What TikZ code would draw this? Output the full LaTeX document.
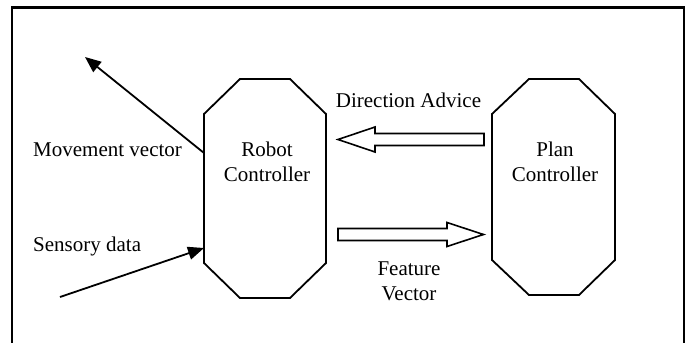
\documentclass[tikz,border=0pt]{standalone}
\usepackage{fontspec}
\setmainfont{Liberation Serif}
\usetikzlibrary{arrows.meta}
\begin{document}
\begin{tikzpicture}[x=1pt,y=-1pt,
  box/.style={inner sep=0pt, outer sep=0pt},
  octaline/.style={draw, line width=1.8pt, line join=miter},
  lbl/.style={font=\fontsize{21}{25}\selectfont, inner sep=0pt, align=center},
  vec/.style={line width=1.8pt, -{Triangle[length=16pt,width=13pt]}},
  hollow/.style={draw, line width=1.6pt, line join=miter}]
\useasboundingbox (0,0) rectangle (689,343);
% frame
\draw[line width=2.2pt] (12,350) -- (12,7.5) -- (684,7.5) -- (684,350);
% controllers (named boxes, octagonal outlines)
\node[box, minimum width=122pt, minimum height=219pt] (robot) at (265,188.5) {};
\node[box, minimum width=123pt, minimum height=216pt] (plan) at (553.5,187) {};
\draw[octaline] (240,79) -- (290,79) -- (326,114) -- (326,263) -- (290,298)
  -- (240,298) -- (204,263) -- (204,114) -- cycle;
\draw[octaline] (529,79) -- (579,79) -- (615,114) -- (615,260) -- (579,295)
  -- (529,295) -- (492,260) -- (492,114) -- cycle;
\node[lbl] (robottext) at (267,162) {Robot\\Controller};
\node[lbl] (plantext) at (555,162) {Plan\\Controller};
% external vectors
\coordinate (mvtip) at (85,57);
\coordinate (sdstart) at (60,297);
\draw[vec] (robot.west |- 0,153) -- (mvtip);
\draw[vec] (sdstart) -- (robot.west |- 0,248);
\node[lbl, anchor=base west] (mvlabel) at (33,156.5) {Movement vector};
\node[lbl, anchor=base west] (sdlabel) at (33,251.5) {Sensory data};
% hollow arrows
\draw[hollow] (338,139.5) -- (375,127) -- (375,133.5) -- (484,133.5) -- (484,145.5)
  -- (375,145.5) -- (375,152) -- cycle;
\draw[hollow] (338,228.5) -- (447,228.5) -- (447,222.5) -- (483.5,234.5) -- (447,246.5)
  -- (447,240.5) -- (338,240.5) -- cycle;
\node[lbl, anchor=base] (dalabel) at (408.5,107.3) {Direction Advice};
\node[lbl] (fvlabel) at (409,281.5) {Feature\\Vector};
\end{tikzpicture}
\end{document}
